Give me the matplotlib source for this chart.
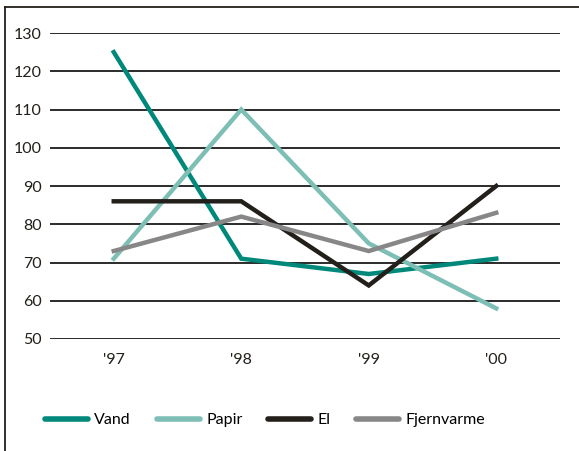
import matplotlib
matplotlib.use("Agg")
import matplotlib.pyplot as plt
from matplotlib.lines import Line2D

years = ["'97", "'98", "'99", "'00"]
vand = [125, 71, 67, 71]
papir = [71, 110, 75, 58]
el = [86, 86, 64, 90]
fjernvarme = [73, 82, 73, 83]
yticks = [50, 60, 70, 80, 90, 100, 110, 120, 130]

plt.rcParams['font.family'] = ['Lato', 'DejaVu Sans']

W, H = 579, 451
fig = plt.figure(figsize=(W / 100, H / 100), dpi=100)
ax = fig.add_axes([50 / W, 1 - 339 / H, 510 / W, (339 - 33) / H])

x = range(len(years))
series = [("Vand", vand, "#00897b"), ("Papir", papir, "#7dbfb5"),
          ("El", el, "#231f1a"), ("Fjernvarme", fjernvarme, "#878787")]

for yv in yticks:
    ax.axhline(yv, color="#1a1a1a", lw=1.3, zorder=1)

handles = []
for name, vals, c in series:
    h, = ax.plot(x, vals, color=c, lw=3.2, solid_joinstyle="miter", zorder=3, label=name)
    handles.append(h)

ax.set_xlim(-0.5, 3.5)
ax.set_ylim(50, 130)
ax.set_yticks(yticks)
ax.set_yticklabels([str(v) for v in yticks])
ax.set_xticks(list(x))
ax.set_xticklabels(years)
for s in ax.spines.values():
    s.set_visible(False)
ax.tick_params(axis="both", length=0, labelsize=11.5, colors="#231f1a")
ax.tick_params(axis="y", pad=6)
ax.tick_params(axis="x", pad=10)

leg = fig.legend(handles=handles, loc="center", bbox_to_anchor=(265 / W, 1 - 420 / H),
                 ncol=4, frameon=False, fontsize=11.5, handlelength=2.7,
                 handletextpad=0.4, columnspacing=1.6)
for lh in leg.get_lines():
    lh.set_linewidth(4)
    lh.set_solid_capstyle("round")

fig.add_artist(Line2D([4.5 / W, 1], [1 - 6.5 / H, 1 - 6.5 / H], transform=fig.transFigure,
                      color="#231f1a", lw=1.3))
fig.add_artist(Line2D([4.5 / W, 4.5 / W], [0, 1 - 6.5 / H], transform=fig.transFigure,
                      color="#231f1a", lw=1.3))

fig.savefig("out.png", dpi=100)
